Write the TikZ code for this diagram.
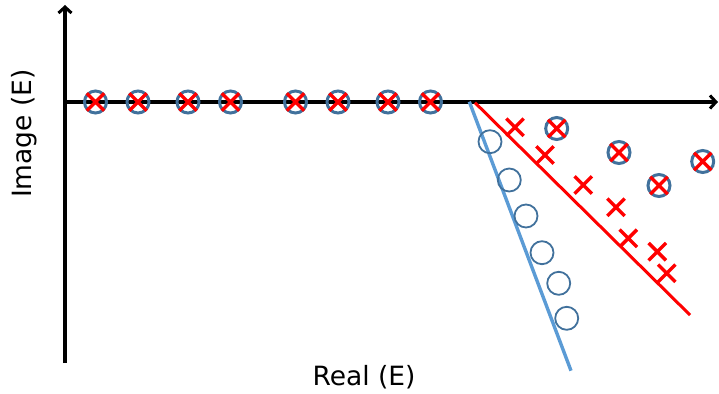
\documentclass[tikz,border=0pt]{standalone}
\usepackage{fontspec}
\setmainfont{DejaVu Sans}
\usetikzlibrary{arrows.meta,shapes.misc}
\definecolor{ringblue}{HTML}{41719C}
\definecolor{lineblue}{HTML}{5B9BD5}
\definecolor{xred}{HTML}{FF0000}
\tikzset{
  axisline/.style={line width=3.4pt, -{Straight Barb[length=6pt,width=13pt,line width=3pt]}},
  ring/.style={circle, draw=ringblue, line width=3pt, minimum size=22pt, inner sep=0pt},
  openring/.style={circle, draw=ringblue, line width=1.8pt, minimum size=23pt, inner sep=0pt},
  xmark/.style={cross out, draw=xred, line width=3.4pt, minimum size=14pt, inner sep=0pt},
  lbl/.style={font=\fontsize{26.5pt}{30pt}\selectfont, text=black, inner sep=0pt},
}
\begin{document}
\begin{tikzpicture}[x=1pt,y=-1pt]
\useasboundingbox (0,0) rectangle (719,393);
% axes
\coordinate (o) at (65,102);
\coordinate (ybot) at (65,363);
\coordinate (ytop) at (65,5);
\coordinate (xend) at (718,102);
\draw[axisline] (ybot) -- (ytop);
\draw[axisline] (o) -- (xend);
% fit lines
\coordinate (bl0) at (469.3,101.7);
\coordinate (bl1) at (571,370.7);
\coordinate (rl0) at (475,102.7);
\coordinate (rl1) at (690,315);
\draw[draw=lineblue, line width=3.4pt] (bl0) -- (bl1);
\draw[draw=xred, line width=3pt] (rl0) -- (rl1);
% circled crosses
\foreach \n/\x/\y in {a1/95.5/102, a2/138/102, a3/188/102, a4/230.5/102, a5/295.5/102, a6/338/102, a7/388/102, a8/430.5/102, b1/556.7/128.5, b2/619/152.5, b3/659/185.5, b4/702.7/161.5} {
  \node[ring] (r\n) at (\x,\y) {};
  \node[xmark] (x\n) at (\x,\y) {};
}
% open circles
\foreach \n/\x/\y in {1/490/141.7, 2/509.3/180, 3/526/216, 4/542/252.7, 5/558.7/283.3, 6/566.7/318.3} {
  \node[openring] (c\n) at (\x,\y) {};
}
% lone crosses
\foreach \n/\x/\y in {1/515/127.3, 2/545/155, 3/583.3/185, 4/616/207.3, 5/628.3/238.3, 6/657.3/251.7, 7/666.7/273.3} {
  \node[xmark] (p\n) at (\x,\y) {};
}
% labels
\node[lbl, anchor=base] (xl) at (364,385.7) {Real (E)};
\node[lbl, anchor=base, rotate=90] (yl) at (31.5,133.5) {Image (E)};
\end{tikzpicture}
\end{document}
